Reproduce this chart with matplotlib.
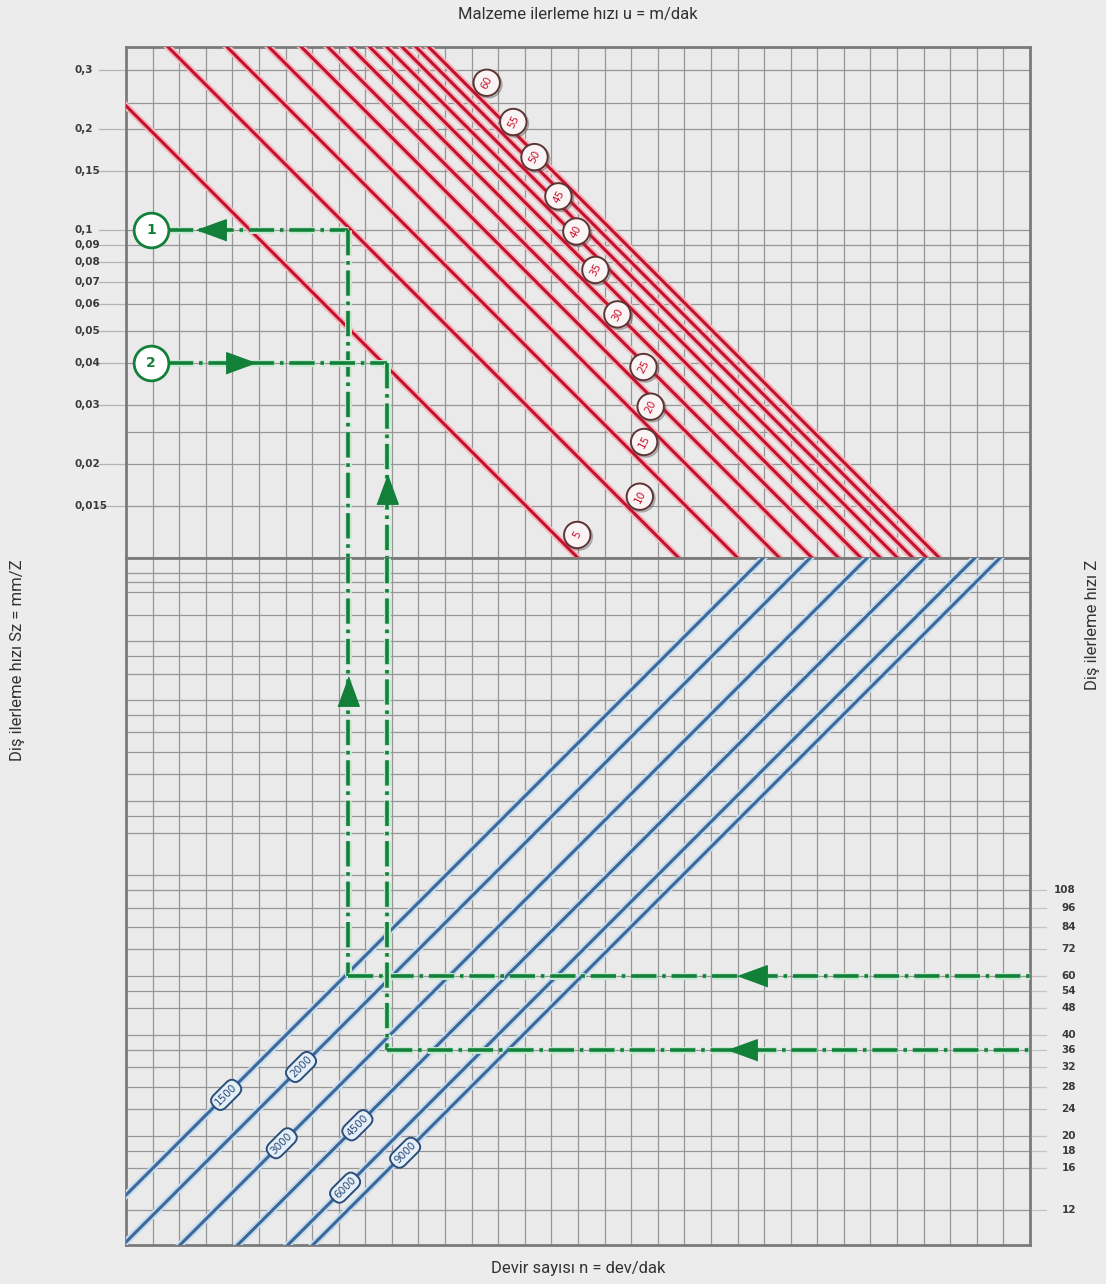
import numpy as np
import matplotlib.pyplot as plt
import matplotlib.patheffects as pe
from matplotlib.transforms import blended_transform_factory

## ------------------------------- dados -------------------------------
sz_ticks = [0.3, 0.2, 0.15, 0.1, 0.09, 0.08, 0.07, 0.06, 0.05, 0.04, 0.03, 0.02, 0.015]
sz_labels = ['0,3', '0,2', '0,15', '0,1', '0,09', '0,08', '0,07', '0,06', '0,05',
             '0,04', '0,03', '0,02', '0,015']
sz_grid = [0.3, 0.24, 0.2, 0.15, 0.1, 0.09, 0.08, 0.07, 0.06, 0.05, 0.04, 0.03, 0.025, 0.02, 0.015]

z_ticks = [108, 96, 84, 72, 60, 54, 48, 40, 36, 32, 28, 24, 20, 18, 16, 12]
z_grid = z_ticks + [120, 160, 180, 200, 240, 280, 320, 360, 400, 480, 540, 600, 720, 840, 900, 960]

u_values = [5, 10, 15, 20, 25, 30, 35, 40, 45, 50, 55, 60]          # m/dak
u_label_sz = [0.0123, 0.016, 0.0233, 0.0297, 0.039, 0.056, 0.076, 0.099, 0.126, 0.165, 0.21, 0.275]

n_labels = ['1500', '2000', '3000', '4500', '6000', '9000']
n_values = [1600, 2210, 3270, 4860, 6860, 8150]                      # dev/dak (posicao lida)
n_label_z = [26.5, 32.1, 19.0, 21.5, 14.0, 17.8]

ex_names = ['1', '2']
ex_sz = [0.1, 0.04]
ex_z = [60, 36]
ex_nz = [98000, 128000]          # n*Z onde corre a linha vertical

## ------------------------------- layout -------------------------------
W, H = 1106, 1284
x_left, x_right = 126, 1030
y_top, y_mid, y_bot = 47, 558, 1245
x_min, x_max = 2.13e4, 1.064e7
sz_min, sz_max = 0.0105, 0.3516
z_min, z_max = 9.44, 1062
x_circle = 25300

BG = '#ececec'
GRID = '#969696'
RED = '#c5112c'
BLUE = '#3b6896'
GREEN = '#13803a'

fig = plt.figure(figsize=(W / 100, H / 100), dpi=100, facecolor=BG)
ax1 = fig.add_axes([x_left / W, 1 - y_mid / H, (x_right - x_left) / W, (y_mid - y_top) / H])
ax2 = fig.add_axes([x_left / W, 1 - y_bot / H, (x_right - x_left) / W, (y_bot - y_mid) / H])

for ax in (ax1, ax2):
    ax.set_xscale('log')
    ax.set_yscale('log')
    ax.set_xlim(x_min, x_max)
    ax.set_facecolor('#eaeaea')
    ax.set_xticks([])
    ax.set_yticks([])
    ax.minorticks_off()
    for s in ax.spines.values():
        s.set_color('#7a7a7a')
        s.set_linewidth(2)
    # grade vertical (uniforme)
    for xv in np.geomspace(x_min, x_max, 35)[1:-1]:
        ax.axvline(xv, color=GRID, lw=0.9, zorder=1)

ax1.set_ylim(sz_min, sz_max)
ax2.set_ylim(z_min, z_max)

for v in sz_grid:
    ax1.axhline(v, color=GRID, lw=0.9, zorder=1)
for v in z_grid:
    ax2.axhline(v, color=GRID, lw=0.9, zorder=1)

## ------------------------------- rotulos dos eixos -------------------------------
tick_font = dict(fontsize=7.5, fontweight='bold', color='#3a3a3a')
tr1 = blended_transform_factory(ax1.transAxes, ax1.transData)
for v, lab in zip(sz_ticks, sz_labels):
    ax1.text(-0.0575, v, lab, transform=tr1, ha='left', va='center', **tick_font)
    ax1.plot([-0.03, 0], [v, v], transform=tr1, color='#b4b4b4', lw=0.9, clip_on=False)

tr2 = blended_transform_factory(ax2.transAxes, ax2.transData)
for v in z_ticks:
    ax2.text(1.0509, v, str(v), transform=tr2, ha='right', va='center', **tick_font)
    ax2.plot([1.0, 1.018], [v, v], transform=tr2, color='#c4c4c4', lw=0.9, clip_on=False)

## ------------------------------- linhas vermelhas (u) -------------------------------
xs = np.array([x_min, x_max])
halo_r = [pe.Stroke(linewidth=5, foreground='#f2b8c0'), pe.Normal()]
shadow = [pe.SimpleLineShadow(offset=(1.2, -1.2), shadow_color='#555555', alpha=0.45), pe.Normal()]
for u, szl in zip(u_values, u_label_sz):
    ax1.plot(xs, 1000 * u / xs, color=RED, lw=2.2, zorder=3, path_effects=halo_r)
    ax1.annotate('', (1000 * u / szl, szl), xytext=(16, 0), textcoords='offset points',
                 arrowprops=dict(arrowstyle='-', alpha=0))
    ax1.plot([1000 * u / szl], [szl], marker='o', ms=19, mfc='#fbf4f4', mec='#5e3434', mew=1.4,
             zorder=6, path_effects=shadow,
             transform=ax1.transData + plt.matplotlib.transforms.ScaledTranslation(16 / 72, 0, fig.dpi_scale_trans))
    ax1.annotate(str(u), (1000 * u / szl, szl), xytext=(16, 0), textcoords='offset points',
                 ha='center', va='center', fontsize=7.5, color=RED, rotation=62, zorder=7)

## ------------------------------- linhas azuis (n) -------------------------------
halo_b = [pe.Stroke(linewidth=5, foreground='#c6dbef'), pe.Normal()]
for n, lab, zl in zip(n_values, n_labels, n_label_z):
    ax2.plot(xs, xs / n, color=BLUE, lw=2.2, zorder=3, path_effects=halo_b)
    ax2.text(n * zl, zl, lab, ha='center', va='center', fontsize=7.5, color='#274a78',
             rotation=45, rotation_mode='anchor', zorder=6,
             bbox=dict(boxstyle='round,pad=0.35,rounding_size=0.75', fc='#e6eef7', ec='#2b4f7c', lw=1.4))

## ------------------------------- exemplos (verde) -------------------------------
halo_g = [pe.Stroke(linewidth=5, foreground='#c4ead0'), pe.Normal()]
gstyle = dict(color=GREEN, lw=2.6, ls=(0, (7, 1.6, 1, 1.6)), zorder=4, path_effects=halo_g)
arrow_l = [(-1, 0), (0.5, 0.55), (0.5, -0.55)]
arrow_r = [(1, 0), (-0.5, 0.55), (-0.5, -0.55)]
arrow_u = [(0, 1), (0.55, -0.5), (-0.55, -0.5)]


def geo(a, b, f):
    return a * (b / a) ** f


for k in range(2):
    sz, z, nz = ex_sz[k], ex_z[k], ex_nz[k]
    ax1.plot([x_circle * 1.12, nz], [sz, sz], **gstyle)
    ax1.plot([nz, nz], [sz, sz_min], **gstyle)
    ax2.plot([nz, nz], [z_max, z], **gstyle)
    ax2.plot([nz, x_max], [z, z], **gstyle)
    ax1.plot([x_circle], [sz], marker='o', ms=25, mfc='white', mec=GREEN, mew=2, zorder=7)
    ax1.text(x_circle, sz, ex_names[k], ha='center', va='center', fontsize=10,
             fontweight='bold', color=GREEN, zorder=8)
    # setas
    ax2.plot([geo(nz, x_max, 0.6 if k == 0 else 0.56)], [z], marker=arrow_l, ms=28,
             color=GREEN, zorder=7)
    if k == 0:
        ax1.plot([geo(x_circle, nz, 0.33)], [sz], marker=arrow_l, ms=28, color=GREEN, zorder=7)
        ax2.plot([nz], [geo(z, z_max, 0.67)], marker=arrow_u, ms=28, color=GREEN, zorder=7)
    else:
        ax1.plot([geo(x_circle, nz, 0.36)], [sz], marker=arrow_r, ms=28, color=GREEN, zorder=7)
        ax1.plot([nz], [geo(sz_min, sz, 0.33)], marker=arrow_u, ms=28, color=GREEN, zorder=7)

## ------------------------------- titulos -------------------------------
tfont = dict(fontsize=12, color='#333333', family=['Roboto', 'DejaVu Sans'])
fig.text(578 / W, 1 - 15 / H, 'Malzeme ilerleme hızı u = m/dak', ha='center', va='center', **tfont)
fig.text(578 / W, 1 - 1268 / H, 'Devir sayısı n = dev/dak', ha='center', va='center', **tfont)
fig.text(18 / W, 1 - 660 / H, 'Diş ilerleme hızı Sz = mm/Z', ha='center', va='center',
         rotation=90, **tfont)
fig.text(1092 / W, 1 - 625 / H, 'Diş ilerleme hızı Z', ha='center', va='center',
         rotation=90, **tfont)

fig.savefig('out.png', dpi=100, facecolor=BG)
